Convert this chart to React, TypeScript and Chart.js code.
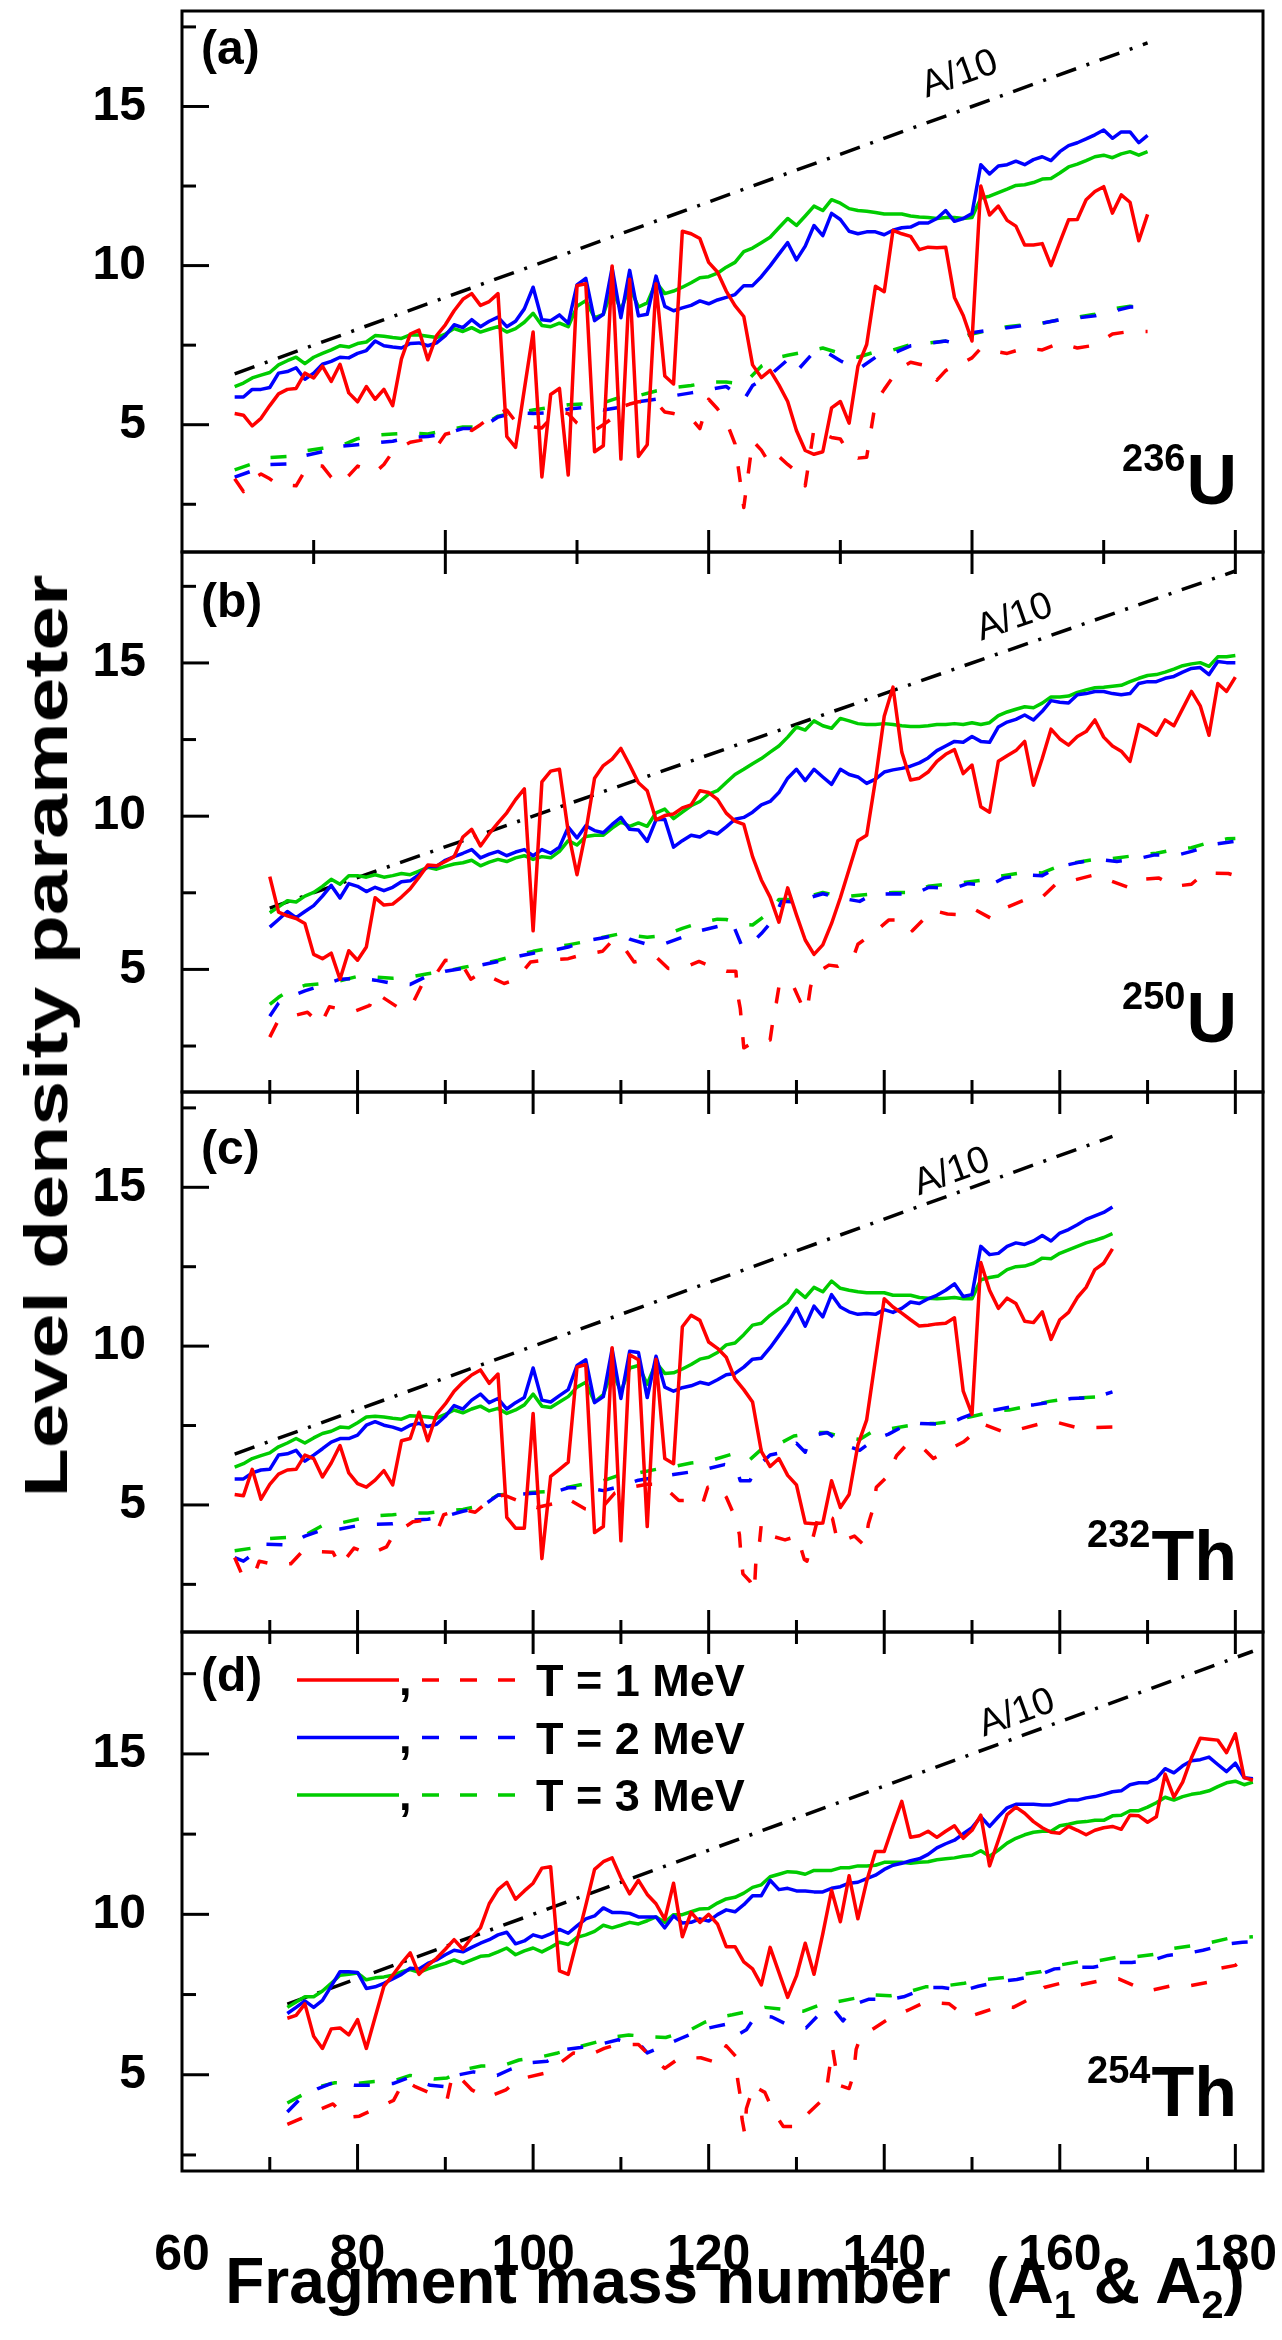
import React, { useEffect, useRef } from 'react';
import { Chart, registerables } from 'chart.js';
Chart.register(...registerables);

const FONT = '"Liberation Sans", Arial, Helvetica, sans-serif';
const RED = '#ff0000';
const BLUE = '#0000ff';
const GREEN = '#00cc00';

type Pair = [number, number];

// ---------------- axis / tick values ----------------
const X_MIN = 60;
const X_MAX = 183.15;
const X_LABELS = [60, 80, 100, 120, 140, 160, 180];
const Y_LABELS = [5, 10, 15];
const Y_TICKS = [2.5, 5, 7.5, 10, 12.5, 15, 17.5];
const X_TICKS_15 = [75, 90, 105, 120, 135, 150, 165, 180];
const X_TICKS_10 = [70, 80, 90, 100, 110, 120, 130, 140, 150, 160, 170, 180];
const LEGEND_LABELS = ['T = 1 MeV', 'T = 2 MeV', 'T = 3 MeV'];

// ---------------- panel (a) 236U ----------------
const a_T1_solid: Pair[] = [[66,5.35],[67,5.3],[68,4.96],[69,5.2],[70,5.6],[71,5.97],[72,6.11],[73,6.14],[74,6.62],[75,6.47],[76,6.84],[77,6.36],[78,6.9],[79,6.0],[80,5.72],[81,6.2],[82,5.8],[83,6.11],[84,5.6],[85,7.07],[86,7.85],[87,7.97],[88,7.04],[89,7.8],[90,8.14],[91,8.58],[92,8.94],[93,9.12],[94,8.75],[95,8.87],[96,9.12],[97,4.63],[98,4.29],[99,6.11],[100,7.91],[101,3.36],[102,5.95],[103,6.14],[104,3.42],[105,9.37],[106,9.43],[107,4.15],[108,4.34],[109,9.99],[110,3.92],[111,9.57],[112,4.0],[113,4.37],[114,9.43],[115,6.53],[116,6.28],[117,11.08],[118,11.0],[119,10.85],[120,10.1],[121,9.8],[122,9.2],[123,8.74],[124,8.4],[125,6.88],[126,6.48],[127,6.71],[128,6.25],[129,5.73],[130,4.82],[131,4.19],[132,4.07],[133,4.15],[134,5.53],[135,5.73],[136,5.05],[137,6.83],[138,7.52],[139,9.35],[140,9.18],[141,11.11],[142,11.0],[143,10.92],[144,10.5],[145,10.58],[146,10.56],[147,10.58],[148,9.0],[149,8.43],[150,7.63],[151,12.5],[152,11.59],[153,11.87],[154,11.42],[155,11.24],[156,10.65],[157,10.65],[158,10.69],[159,10.0],[160,10.73],[161,11.44],[162,11.45],[163,12.07],[164,12.33],[165,12.48],[166,11.65],[167,12.22],[168,11.99],[169,10.78],[170,11.61]];
const a_T2_solid: Pair[] = [[66,5.87],[67,5.87],[68,6.11],[69,6.11],[70,6.17],[71,6.62],[72,6.67],[73,6.79],[74,6.43],[75,6.62],[76,6.9],[77,6.99],[78,7.12],[79,7.1],[80,7.24],[81,7.33],[82,7.63],[83,7.48],[84,7.44],[85,7.41],[86,7.55],[87,7.57],[88,7.48],[89,7.57],[90,7.8],[91,8.14],[92,8.05],[93,8.3],[94,8.08],[95,8.25],[96,8.38],[97,8.08],[98,8.25],[99,8.64],[100,9.32],[101,8.3],[102,8.27],[103,8.45],[104,8.19],[105,9.39],[106,9.6],[107,8.27],[108,8.47],[109,9.93],[110,8.36],[111,9.85],[112,8.42],[113,8.47],[114,9.67],[115,8.72],[116,8.58],[117,8.67],[118,8.75],[119,8.89],[120,8.8],[121,8.92],[122,9.0],[123,9.09],[124,9.37],[125,9.37],[126,9.65],[127,9.99],[128,10.36],[129,10.72],[130,10.18],[131,10.61],[132,11.26],[133,10.94],[134,11.64],[135,11.45],[136,11.08],[137,11.0],[138,11.06],[139,11.06],[140,10.97],[141,11.11],[142,11.19],[143,11.21],[144,11.34],[145,11.34],[146,11.48],[147,11.73],[148,11.39],[149,11.48],[150,11.64],[151,13.17],[152,12.88],[153,13.13],[154,13.17],[155,13.28],[156,13.17],[157,13.33],[158,13.42],[159,13.3],[160,13.58],[161,13.77],[162,13.86],[163,13.98],[164,14.11],[165,14.26],[166,14.0],[167,14.2],[168,14.2],[169,13.86],[170,14.09]];
const a_T3_solid: Pair[] = [[66,6.2],[67,6.31],[68,6.47],[69,6.56],[70,6.64],[71,6.88],[72,7.01],[73,7.12],[74,6.92],[75,7.12],[76,7.24],[77,7.35],[78,7.48],[79,7.44],[80,7.55],[81,7.6],[82,7.8],[83,7.78],[84,7.74],[85,7.71],[86,7.82],[87,7.82],[88,7.78],[89,7.74],[90,7.85],[91,8.02],[92,7.93],[93,8.05],[94,7.91],[95,8.0],[96,8.08],[97,7.91],[98,8.02],[99,8.22],[100,8.5],[101,8.12],[102,8.08],[103,8.19],[104,8.08],[105,8.72],[106,8.9],[107,8.36],[108,8.47],[109,9.26],[110,8.61],[111,9.32],[112,8.7],[113,8.83],[114,9.48],[115,9.12],[116,9.2],[117,9.32],[118,9.46],[119,9.62],[120,9.65],[121,9.76],[122,9.95],[123,10.1],[124,10.44],[125,10.55],[126,10.72],[127,10.89],[128,11.19],[129,11.48],[130,11.26],[131,11.56],[132,11.87],[133,11.73],[134,12.07],[135,11.96],[136,11.79],[137,11.73],[138,11.71],[139,11.67],[140,11.62],[141,11.62],[142,11.62],[143,11.56],[144,11.53],[145,11.51],[146,11.48],[147,11.51],[148,11.51],[149,11.48],[150,11.51],[151,12.12],[152,12.18],[153,12.29],[154,12.4],[155,12.52],[156,12.54],[157,12.61],[158,12.72],[159,12.74],[160,12.91],[161,13.1],[162,13.19],[163,13.3],[164,13.42],[165,13.47],[166,13.39],[167,13.51],[168,13.58],[169,13.47],[170,13.58]];
const a_T1_dash: Pair[] = [[66,3.3],[67,2.9],[68,3.3],[69,3.45],[70,3.3],[71,3.1],[72,3.1],[73,3.08],[74,3.55],[75,3.72],[76,3.7],[77,3.35],[78,3.15],[79,3.4],[80,3.7],[81,3.6],[82,3.5],[83,3.75],[84,4.15],[85,4.3],[86,4.45],[87,4.5],[88,4.56],[89,4.3],[90,4.7],[91,4.77],[92,4.93],[93,4.82],[94,5.0],[95,5.2],[96,5.35],[97,5.46],[98,5.1],[99,5.0],[100,4.93],[101,4.9],[102,5.2],[103,5.4],[104,5.35],[105,5.05],[106,4.85],[107,4.82],[108,5.0],[109,5.2],[110,5.55],[111,5.65],[112,5.72],[113,5.72],[114,5.7],[115,5.4],[116,5.35],[117,5.27],[118,5.2],[119,4.88],[120,5.8],[121,5.5],[122,5.1],[123,4.4],[124,2.4],[125,4.5],[126,4.2],[127,3.75],[128,4.0],[129,3.75],[130,3.53],[131,3.08],[132,4.88],[133,4.7],[134,4.6],[135,4.55],[136,4.1],[137,3.95],[138,3.98],[139,5.7],[140,6.11],[141,6.5],[142,6.8],[143,6.96],[144,6.9],[145,6.84],[146,6.4],[147,6.7],[148,6.85],[149,6.95],[150,7.1],[151,7.4],[152,7.33],[154,7.24],[156,7.41],[158,7.35],[160,7.57],[162,7.41],[164,7.5],[166,7.85],[168,7.93],[170,7.93]];
const a_T2_dash: Pair[] = [[66,3.35],[68,3.55],[70,3.75],[72,3.77],[74,4.03],[76,4.15],[78,4.32],[80,4.37],[82,4.43],[84,4.48],[86,4.6],[88,4.63],[90,4.71],[92,4.88],[94,4.88],[96,5.24],[98,5.38],[100,5.35],[102,5.38],[104,5.49],[106,5.55],[108,5.46],[110,5.55],[112,5.72],[114,5.8],[116,5.91],[118,6.0],[120,6.1],[122,6.2],[123,6.0],[124,5.78],[125,6.23],[127,6.56],[129,7.04],[130,6.67],[132,7.29],[133,7.35],[135,7.01],[137,6.73],[139,7.12],[141,7.24],[143,7.48],[145,7.55],[147,7.63],[148,7.55],[150,7.89],[152,7.97],[154,8.05],[156,8.12],[158,8.19],[160,8.3],[162,8.36],[164,8.42],[166,8.56],[168,8.7],[170,8.7]];
const a_T3_dash: Pair[] = [[66,3.58],[68,3.77],[70,3.97],[72,4.0],[74,4.18],[76,4.26],[78,4.32],[80,4.56],[82,4.67],[84,4.71],[86,4.74],[88,4.71],[90,4.82],[92,4.93],[94,4.93],[96,5.27],[98,5.38],[100,5.46],[102,5.55],[104,5.63],[106,5.66],[108,5.69],[110,5.87],[112,5.91],[114,6.06],[116,6.17],[118,6.23],[120,6.34],[122,6.34],[124,6.28],[126,6.84],[128,7.12],[129,7.18],[131,7.29],[133,7.41],[135,7.24],[137,7.12],[139,7.29],[141,7.35],[143,7.52],[145,7.57],[147,7.63],[149,7.74],[150,7.85],[152,7.97],[154,8.08],[156,8.14],[158,8.19],[160,8.3],[162,8.38],[164,8.47],[166,8.64],[168,8.72],[170,8.7]];
const a_A10: Pair[] = [[66,6.6],[170,17.0]];

// ---------------- panel (b) 250U ----------------
const b_T1_solid: Pair[] = [[70,8.03],[71,6.87],[72,6.75],[73,6.66],[74,6.5],[75,5.49],[76,5.35],[77,5.53],[78,4.68],[79,5.61],[80,5.3],[81,5.73],[82,7.34],[83,7.1],[84,7.13],[85,7.36],[86,7.63],[87,8.01],[88,8.41],[89,8.38],[90,8.52],[91,8.68],[92,9.32],[93,9.57],[94,9.03],[95,9.43],[96,9.78],[97,10.11],[98,10.54],[99,10.89],[100,6.26],[101,11.12],[102,11.47],[103,11.53],[104,9.49],[105,8.09],[106,9.49],[107,11.24],[108,11.65],[109,11.86],[110,12.21],[111,11.67],[112,11.09],[113,10.83],[114,9.88],[115,10.02],[116,10.07],[117,10.27],[118,10.37],[119,10.83],[120,10.77],[121,10.55],[122,10.1],[123,9.84],[124,9.73],[125,8.68],[126,7.92],[127,7.36],[128,6.54],[129,7.66],[130,6.78],[131,5.96],[132,5.49],[133,5.8],[134,6.5],[135,7.34],[136,8.27],[137,9.2],[138,9.38],[139,11.18],[140,13.26],[141,14.21],[142,12.09],[143,11.18],[144,11.24],[145,11.44],[146,11.79],[147,12.02],[148,12.17],[149,11.39],[150,11.67],[151,10.31],[152,10.13],[153,11.79],[154,11.97],[155,12.14],[156,12.44],[157,11.01],[158,11.88],[159,12.84],[160,12.52],[161,12.32],[162,12.6],[163,12.76],[164,13.14],[165,12.58],[166,12.29],[167,12.12],[168,11.79],[169,12.99],[170,12.84],[171,12.64],[172,13.14],[173,12.95],[174,13.51],[175,14.07],[176,13.6],[177,12.64],[178,14.33],[179,14.07],[180,14.54]];
const b_T2_solid: Pair[] = [[70,6.38],[71,6.63],[72,6.89],[73,6.69],[74,6.89],[75,7.08],[76,7.39],[77,7.74],[78,7.33],[79,7.8],[80,7.71],[81,7.54],[82,7.68],[83,7.57],[84,7.68],[85,7.86],[86,7.89],[87,8.09],[88,8.36],[89,8.36],[90,8.56],[91,8.68],[92,8.79],[93,8.91],[94,8.64],[95,8.76],[96,8.85],[97,8.71],[98,8.83],[99,8.91],[100,8.71],[101,8.91],[102,8.79],[103,8.99],[104,9.64],[105,9.29],[106,9.69],[107,9.53],[108,9.46],[109,9.73],[110,9.96],[111,9.57],[112,9.55],[113,9.18],[114,9.88],[115,9.9],[116,8.99],[117,9.2],[118,9.38],[119,9.32],[120,9.5],[121,9.42],[122,9.65],[123,9.9],[124,9.96],[125,10.13],[126,10.37],[127,10.48],[128,10.77],[129,11.24],[130,11.53],[131,11.16],[132,11.53],[133,11.28],[134,11.04],[135,11.53],[136,11.36],[137,11.28],[138,11.07],[139,11.21],[140,11.44],[141,11.51],[142,11.56],[143,11.63],[144,11.74],[145,11.9],[146,12.14],[147,12.29],[148,12.44],[149,12.41],[150,12.6],[151,12.44],[152,12.41],[153,12.91],[154,13.07],[155,13.16],[156,13.3],[157,13.14],[158,13.42],[159,13.77],[160,13.72],[161,13.69],[162,13.96],[163,14.0],[164,14.07],[165,14.07],[166,14.0],[167,13.96],[168,14.0],[169,14.33],[170,14.39],[171,14.39],[172,14.5],[173,14.56],[174,14.7],[175,14.82],[176,14.85],[177,14.62],[178,15.05],[179,15.01],[180,15.01]];
const b_T3_solid: Pair[] = [[70,6.85],[71,7.04],[72,7.24],[73,7.2],[74,7.39],[75,7.51],[76,7.71],[77,7.94],[78,7.78],[79,8.06],[80,8.06],[81,8.01],[82,8.09],[83,8.01],[84,8.06],[85,8.13],[86,8.09],[87,8.21],[88,8.33],[89,8.27],[90,8.36],[91,8.44],[92,8.48],[93,8.56],[94,8.38],[95,8.5],[96,8.59],[97,8.52],[98,8.64],[99,8.71],[100,8.59],[101,8.68],[102,8.64],[103,8.85],[104,9.2],[105,9.06],[106,9.34],[107,9.38],[108,9.38],[109,9.61],[110,9.81],[111,9.67],[112,9.78],[113,9.67],[114,10.11],[115,10.23],[116,9.92],[117,10.13],[118,10.34],[119,10.48],[120,10.72],[121,10.83],[122,11.1],[123,11.36],[124,11.53],[125,11.71],[126,11.88],[127,12.09],[128,12.29],[129,12.58],[130,12.91],[131,12.81],[132,13.11],[133,12.95],[134,12.87],[135,13.19],[136,13.11],[137,13.02],[138,12.99],[139,12.99],[140,13.02],[141,12.99],[142,12.95],[143,12.93],[144,12.93],[145,12.95],[146,12.99],[147,12.99],[148,13.02],[149,12.99],[150,13.05],[151,12.99],[152,13.05],[153,13.28],[154,13.4],[155,13.49],[156,13.57],[157,13.54],[158,13.69],[159,13.89],[160,13.89],[161,13.92],[162,14.04],[163,14.12],[164,14.19],[165,14.21],[166,14.24],[167,14.27],[168,14.39],[169,14.5],[170,14.59],[171,14.62],[172,14.7],[173,14.8],[174,14.91],[175,14.97],[176,15.01],[177,14.89],[178,15.2],[179,15.2],[180,15.24]];
const b_T1_dash: Pair[] = [[70,2.79],[70.9,3.3],[72.7,3.49],[74.3,3.6],[75.8,3.2],[76.8,3.78],[77.8,3.72],[79.6,3.63],[81.4,3.83],[82,4.25],[84.5,3.78],[86.1,3.78],[87.3,4.48],[88.8,4.79],[90,5.3],[91.7,5.26],[92.9,4.68],[94.1,4.89],[96.7,4.54],[98.1,4.68],[99.7,5.24],[101.4,5.3],[104,5.35],[105.2,5.45],[107.9,5.59],[109.1,5.96],[110.5,5.65],[111.5,5.24],[114,5.41],[115.4,5.03],[117,5.03],[118.9,5.26],[120.3,5.1],[122.1,4.94],[123.1,4.94],[123.3,4.19],[123.6,3.72],[124,2.44],[125.4,2.67],[127,2.7],[127.4,3.49],[127.7,3.9],[128.1,4.6],[129.7,4.42],[130.8,3.72],[131.2,3.63],[131.6,4.42],[132,4.83],[133.7,5.14],[134.7,5.1],[136.5,5.41],[137,5.82],[139.1,6.26],[140.5,6.61],[142.4,6.61],[143.2,6.26],[145.5,6.93],[147.2,6.81],[149.1,6.78],[150.3,6.96],[152.2,6.66],[153.4,6.96],[156.1,7.28],[157.8,7.3],[159.6,7.8],[161.3,7.89],[164,8.09],[165.5,7.92],[168,7.66],[169.4,7.94],[171.3,7.98],[173,7.71],[175,7.78],[176.5,8.15],[179.2,8.13],[180,8.06]];
const b_T2_dash: Pair[] = [[70,3.47],[71,3.9],[72.5,4.13],[74,4.3],[76,4.48],[78,4.68],[80,4.71],[82,4.65],[84,4.54],[86,4.51],[88,4.79],[90,4.94],[92,5.03],[94,5.14],[96,5.26],[98,5.41],[100,5.53],[102,5.61],[104,5.73],[106,5.94],[108,6.03],[110,6.17],[111,5.99],[113,5.82],[115,5.84],[117,6.05],[119,6.26],[121,6.4],[122.7,6.52],[123.7,5.82],[124.3,5.7],[126,6.17],[127.4,6.63],[128.3,7.22],[130,7.2],[130.8,7.28],[133,7.47],[135,7.33],[137.2,7.22],[138.7,7.45],[141.4,7.47],[143.4,7.45],[145.1,7.68],[147.8,7.63],[149.5,7.8],[152,7.74],[153.6,7.98],[156,8.09],[158,8.06],[160,8.36],[162.3,8.5],[164.4,8.59],[166.5,8.52],[169,8.62],[170.7,8.73],[173.4,8.73],[175,8.85],[177.5,9.08],[180,9.18]];
const b_T3_dash: Pair[] = [[70,3.86],[71,4.09],[72,4.28],[74,4.48],[76,4.54],[78,4.63],[80,4.77],[82,4.75],[84,4.71],[86,4.75],[88,4.86],[90,4.94],[92,5.06],[94,5.18],[96,5.3],[98,5.45],[100,5.59],[102,5.7],[104,5.8],[106,5.91],[108,6.05],[110,6.17],[111,6.11],[113,6.05],[115,6.11],[117,6.34],[119,6.52],[121,6.64],[122,6.63],[124,6.46],[125,6.45],[127,6.87],[128,7.28],[130,7.28],[133,7.51],[135,7.39],[136,7.39],[139,7.47],[141,7.51],[143,7.51],[145,7.71],[147,7.78],[149,7.83],[152,7.94],[153,8.03],[156,8.17],[158,8.15],[160,8.38],[162,8.5],[164,8.59],[166,8.62],[169,8.73],[171,8.79],[173,8.91],[175,8.97],[177,9.14],[179,9.26],[180,9.27]];
const b_A10: Pair[] = [[70,7.0],[180,18.0]];

// ---------------- panel (c) 232Th ----------------
const c_T1_solid: Pair[] = [[66,5.33],[67,5.29],[68,6.12],[69,5.18],[70,5.65],[71,5.97],[72,6.1],[73,6.12],[74,6.57],[75,6.46],[76,5.88],[77,6.32],[78,6.87],[79,6.01],[80,5.67],[81,5.56],[82,5.78],[83,6.08],[84,5.63],[85,7.02],[86,7.09],[87,7.92],[88,7.02],[89,7.85],[90,8.18],[91,8.58],[92,8.86],[93,9.09],[94,9.25],[95,8.83],[96,9.12],[97,4.61],[98,4.27],[99,4.27],[100,7.88],[101,3.31],[102,5.9],[103,6.12],[104,6.35],[105,9.34],[106,9.42],[107,4.13],[108,4.32],[109,9.95],[110,3.87],[111,9.73],[112,9.57],[113,4.32],[114,9.59],[115,6.46],[116,6.3],[117,10.61],[118,10.97],[119,10.81],[120,10.13],[121,9.93],[122,9.65],[123,8.97],[124,8.63],[125,8.24],[126,6.69],[127,6.21],[128,6.46],[129,5.93],[130,5.63],[131,4.43],[132,4.41],[133,4.43],[134,5.76],[135,4.92],[136,5.33],[137,6.89],[138,7.68],[139,9.59],[140,11.49],[141,11.23],[142,11.04],[143,10.83],[144,10.63],[145,10.66],[146,10.7],[147,10.72],[148,10.89],[149,8.58],[150,7.85],[151,12.63],[152,11.76],[153,11.19],[154,11.51],[155,11.34],[156,10.78],[157,10.74],[158,11.08],[159,10.21],[160,10.83],[161,11.06],[162,11.53],[163,11.85],[164,12.41],[165,12.61],[166,13.06]];
const c_T2_solid: Pair[] = [[66,5.82],[67,5.82],[68,6.01],[69,6.1],[70,6.12],[71,6.57],[72,6.61],[73,6.72],[74,6.38],[75,6.57],[76,6.77],[77,6.98],[78,7.09],[79,7.09],[80,7.2],[81,7.51],[82,7.62],[83,7.51],[84,7.45],[85,7.36],[86,7.51],[87,7.57],[88,7.47],[89,7.54],[90,7.79],[91,8.13],[92,8.02],[93,8.3],[94,8.49],[95,8.22],[96,8.35],[97,8.02],[98,8.22],[99,8.38],[100,9.31],[101,8.3],[102,8.24],[103,8.44],[104,8.63],[105,9.39],[106,9.57],[107,8.22],[108,8.41],[109,9.91],[110,8.35],[111,9.84],[112,9.8],[113,8.38],[114,9.68],[115,8.71],[116,8.58],[117,8.69],[118,8.75],[119,8.86],[120,8.8],[121,8.94],[122,9.1],[123,9.14],[124,9.34],[125,9.59],[126,9.62],[127,9.95],[128,10.33],[129,10.72],[130,11.19],[131,10.63],[132,11.26],[133,10.92],[134,11.62],[135,11.23],[136,11.08],[137,11.0],[138,11.03],[139,11.0],[140,11.15],[141,11.06],[142,11.19],[143,11.39],[144,11.34],[145,11.49],[146,11.6],[147,11.76],[148,11.96],[149,11.56],[150,11.62],[151,13.14],[152,12.88],[153,12.92],[154,13.14],[155,13.25],[156,13.2],[157,13.31],[158,13.48],[159,13.31],[160,13.56],[161,13.67],[162,13.82],[163,13.99],[164,14.1],[165,14.21],[166,14.38]];
const c_T3_solid: Pair[] = [[66,6.19],[67,6.3],[68,6.46],[69,6.55],[70,6.64],[71,6.83],[72,6.95],[73,7.09],[74,6.95],[75,7.11],[76,7.25],[77,7.32],[78,7.45],[79,7.43],[80,7.59],[81,7.77],[82,7.79],[83,7.77],[84,7.73],[85,7.7],[86,7.81],[87,7.79],[88,7.77],[89,7.73],[90,7.85],[91,7.99],[92,7.9],[93,8.02],[94,8.11],[95,7.96],[96,8.04],[97,7.88],[98,7.99],[99,8.15],[100,8.49],[101,8.11],[102,8.07],[103,8.24],[104,8.41],[105,8.71],[106,8.86],[107,8.24],[108,8.47],[109,9.23],[110,8.56],[111,9.31],[112,9.39],[113,8.8],[114,9.48],[115,9.14],[116,9.16],[117,9.28],[118,9.42],[119,9.59],[120,9.65],[121,9.8],[122,10.04],[123,10.1],[124,10.36],[125,10.66],[126,10.72],[127,10.97],[128,11.17],[129,11.37],[130,11.76],[131,11.53],[132,11.85],[133,11.71],[134,12.05],[135,11.82],[136,11.76],[137,11.71],[138,11.68],[139,11.68],[140,11.68],[141,11.6],[142,11.6],[143,11.6],[144,11.53],[145,11.51],[146,11.49],[147,11.51],[148,11.53],[149,11.49],[150,11.49],[151,12.09],[152,12.16],[153,12.21],[154,12.41],[155,12.5],[156,12.52],[157,12.61],[158,12.77],[159,12.75],[160,12.92],[161,13.03],[162,13.14],[163,13.25],[164,13.33],[165,13.42],[166,13.54]];
const c_T1_dash: Pair[] = [[66,3.34],[66.8,2.83],[68.2,2.77],[68.8,3.23],[70.7,3.11],[72.4,3.15],[73.7,3.53],[75.3,3.53],[77.2,3.51],[78,3.08],[79.6,3.64],[81.4,3.45],[83.3,3.68],[84.1,4.07],[86.3,4.47],[88,4.52],[89.2,4.27],[89.8,4.69],[91.9,4.86],[93.4,4.77],[95.5,5.25],[96.7,5.31],[98.7,5.09],[100.4,4.92],[102.2,5.03],[103.8,5.22],[105.9,4.88],[107.5,4.8],[109.3,5.37],[111,5.55],[113,5.65],[114.6,5.65],[116.6,5.14],[118.3,5.14],[119.3,5.03],[119.9,5.56],[121,5.6],[122,5.25],[123.1,4.55],[123.5,4.07],[123.7,3.34],[123.9,2.83],[124.7,2.6],[125.2,2.27],[125.4,3.34],[125.8,3.84],[126,4.41],[127.2,4.02],[128.7,3.9],[130.1,4.02],[130.9,3.28],[131.2,3.23],[132.6,4.75],[134.1,4.58],[134.7,3.82],[135.5,3.9],[136.6,4.02],[137.8,3.71],[138.2,4.41],[138.7,4.86],[139.1,5.56],[140.3,5.88],[141.4,6.55],[142.6,6.91],[144.5,6.77],[145.6,6.46],[147.4,6.75],[149,6.98],[150.5,7.32],[151.3,7.54],[153.8,7.28],[155.5,7.39],[157.8,7.56],[159.4,7.62],[162,7.43],[163.6,7.43],[166,7.45]];
const c_T2_dash: Pair[] = [[66,3.34],[67,3.23],[69.6,3.76],[72,3.74],[74,4.02],[76,4.21],[78,4.24],[80,4.35],[82,4.39],[84,4.41],[86,4.52],[88,4.55],[90,4.64],[92,4.8],[94,4.92],[96,5.31],[98,5.33],[100,5.37],[102,5.37],[104,5.54],[106,5.54],[108,5.45],[110,5.59],[112,5.78],[114,5.87],[116,5.96],[118,6.04],[120,6.15],[121.8,6.27],[123.1,6.21],[123.6,5.76],[124.7,5.76],[125.4,6.16],[127,6.57],[128.5,6.66],[130,6.94],[131,6.66],[131.6,7.17],[133.5,7.28],[135.5,6.89],[137.2,6.72],[138.9,7.06],[140.5,7.23],[143,7.6],[144.1,7.56],[147.2,7.54],[148.8,7.73],[150.9,7.96],[152.6,7.99],[155.3,8.13],[157,8.15],[159.6,8.26],[161.3,8.35],[164,8.38],[166,8.56]];
const c_T3_dash: Pair[] = [[66,3.56],[68,3.64],[70,3.94],[72,3.98],[74,4.05],[76,4.35],[78,4.43],[80,4.55],[82,4.66],[84,4.69],[86,4.75],[88,4.75],[90,4.8],[92,4.86],[94,4.97],[96,5.31],[98,5.37],[100,5.4],[102,5.42],[104,5.56],[106,5.67],[108,5.76],[110,5.96],[112,6.01],[114,6.12],[116,6.21],[118,6.32],[120,6.38],[122.7,6.6],[124.5,6.38],[126,6.75],[127.4,6.83],[129.7,7.17],[132.2,7.28],[133.3,7.28],[135.3,7.14],[137.2,7.06],[138.5,7.28],[140.5,7.39],[144.1,7.56],[145.7,7.56],[147.4,7.62],[150.1,7.79],[152.6,7.96],[154.2,7.99],[156.7,8.13],[158.8,8.26],[161.3,8.35],[163,8.38],[164.4,8.41],[166,8.52]];
const c_A10: Pair[] = [[66,6.6],[166,16.6]];

// ---------------- panel (d) 254Th ----------------
const d_T1_solid: Pair[] = [[72,6.76],[73,6.85],[74,7.21],[75,6.2],[76,5.82],[77,6.43],[78,6.46],[79,6.24],[80,6.72],[81,5.82],[82,6.79],[83,7.76],[84,8.1],[85,8.47],[86,8.8],[87,8.13],[88,8.41],[89,8.63],[90,8.91],[91,9.21],[92,8.91],[93,9.28],[94,9.58],[95,10.33],[96,10.77],[97,11.0],[98,10.47],[99,10.73],[100,10.97],[101,11.44],[102,11.48],[103,8.24],[104,8.13],[105,9.19],[106,10.28],[107,11.4],[108,11.64],[109,11.76],[110,11.14],[111,10.64],[112,11.06],[113,10.62],[114,10.33],[115,9.84],[116,10.97],[117,9.3],[118,10.06],[119,9.75],[120,10.0],[121,9.7],[122,8.99],[123,8.99],[124,8.52],[125,8.3],[126,7.8],[127,8.97],[128,8.19],[129,7.41],[130,8.08],[131,9.1],[132,8.13],[133,9.39],[134,10.75],[135,9.77],[136,11.2],[137,9.86],[138,11.03],[139,11.96],[140,11.96],[141,12.76],[142,13.52],[143,12.4],[144,12.45],[145,12.59],[146,12.4],[147,12.59],[148,12.76],[149,12.37],[150,12.62],[151,13.09],[152,11.51],[153,12.31],[154,13.11],[155,13.34],[156,13.15],[157,12.89],[158,12.7],[159,12.56],[160,12.53],[161,12.74],[162,12.62],[163,12.48],[164,12.62],[165,12.7],[166,12.74],[167,12.65],[168,13.09],[169,13.07],[170,12.87],[171,13.04],[172,14.37],[173,13.65],[174,14.12],[175,14.88],[176,15.49],[177,15.46],[178,15.43],[179,15.04],[180,15.63],[181,14.26],[182,14.18]];
const d_T2_solid: Pair[] = [[72,6.91],[73,7.1],[74,7.3],[75,7.1],[76,7.32],[77,7.76],[78,8.21],[79,8.21],[80,8.19],[81,7.69],[82,7.74],[83,7.85],[84,7.99],[85,8.13],[86,8.32],[87,8.3],[88,8.47],[89,8.58],[90,8.74],[91,8.88],[92,8.83],[93,8.97],[94,9.1],[95,9.21],[96,9.36],[97,9.44],[98,9.08],[99,9.17],[100,9.36],[101,9.28],[102,9.39],[103,9.53],[104,9.41],[105,9.64],[106,9.86],[107,9.95],[108,10.2],[109,10.06],[110,10.06],[111,10.03],[112,9.92],[113,9.92],[114,9.92],[115,9.58],[116,9.95],[117,9.73],[118,9.75],[119,9.86],[120,9.79],[121,9.99],[122,10.14],[123,10.08],[124,10.3],[125,10.58],[126,10.58],[127,11.06],[128,10.77],[129,10.81],[130,10.73],[131,10.73],[132,10.7],[133,10.7],[134,10.81],[135,10.86],[136,10.97],[137,11.0],[138,11.11],[139,11.22],[140,11.4],[141,11.53],[142,11.59],[143,11.67],[144,11.73],[145,11.87],[146,12.07],[147,12.2],[148,12.31],[149,12.51],[150,12.7],[151,13.04],[152,12.74],[153,13.04],[154,13.32],[155,13.43],[156,13.43],[157,13.43],[158,13.41],[159,13.41],[160,13.48],[161,13.56],[162,13.56],[163,13.63],[164,13.67],[165,13.74],[166,13.82],[167,13.85],[168,14.04],[169,14.1],[170,14.1],[171,14.23],[172,14.54],[173,14.41],[174,14.63],[175,14.79],[176,14.82],[177,14.9],[178,14.67],[179,14.45],[180,14.71],[181,14.26],[182,14.23]];
const d_T3_solid: Pair[] = [[72,7.1],[73,7.27],[74,7.43],[75,7.43],[76,7.61],[77,7.85],[78,8.1],[79,8.13],[80,8.17],[81,7.96],[82,8.02],[83,8.05],[84,8.1],[85,8.21],[86,8.28],[87,8.19],[88,8.3],[89,8.39],[90,8.47],[91,8.58],[92,8.47],[93,8.58],[94,8.69],[95,8.72],[96,8.83],[97,8.95],[98,8.74],[99,8.86],[100,8.95],[101,8.83],[102,8.97],[103,9.13],[104,9.06],[105,9.28],[106,9.36],[107,9.47],[108,9.66],[109,9.58],[110,9.66],[111,9.75],[112,9.7],[113,9.8],[114,9.92],[115,9.75],[116,9.99],[117,9.99],[118,10.08],[119,10.17],[120,10.18],[121,10.35],[122,10.48],[123,10.53],[124,10.66],[125,10.84],[126,10.92],[127,11.17],[128,11.25],[129,11.33],[130,11.31],[131,11.25],[132,11.37],[133,11.37],[134,11.37],[135,11.45],[136,11.45],[137,11.51],[138,11.51],[139,11.53],[140,11.62],[141,11.62],[142,11.62],[143,11.59],[144,11.62],[145,11.64],[146,11.7],[147,11.73],[148,11.76],[149,11.81],[150,11.84],[151,11.98],[152,11.81],[153,12.0],[154,12.22],[155,12.37],[156,12.48],[157,12.56],[158,12.59],[159,12.59],[160,12.76],[161,12.81],[162,12.87],[163,12.89],[164,12.93],[165,12.93],[166,13.07],[167,13.09],[168,13.23],[169,13.23],[170,13.34],[171,13.48],[172,13.65],[173,13.56],[174,13.67],[175,13.74],[176,13.78],[177,13.85],[178,13.98],[179,14.1],[180,14.15],[181,14.04],[182,14.12]];
const d_T1_dash: Pair[] = [[72,3.45],[73.6,3.64],[75.5,3.9],[77.2,4.09],[78.8,3.67],[80.2,3.71],[82.5,4.0],[84.1,4.2],[85.3,4.82],[86.5,4.64],[88.8,4.37],[90.2,4.23],[90.8,4.98],[91.2,5.04],[93,4.53],[94.7,4.29],[96.9,4.53],[98.5,4.87],[101.2,5.04],[102.4,5.23],[104.6,5.68],[106.3,5.6],[108.1,5.82],[109.5,5.94],[112,5.94],[113.4,5.57],[115,5.2],[116.6,5.51],[119.1,5.53],[120.9,5.38],[122,5.9],[123.1,5.57],[123.3,4.85],[123.6,4.34],[123.8,3.62],[124.1,3.17],[124.3,3.95],[124.7,4.29],[124.9,4.68],[126.4,4.45],[127.4,3.84],[128.5,3.39],[130.1,3.39],[131.3,3.79],[133,4.23],[133.5,4.68],[133.9,5.46],[134.1,5.85],[134.5,5.17],[134.8,4.68],[136,4.57],[136.5,5.01],[136.8,5.79],[137.3,6.18],[138.9,6.46],[140.5,6.74],[143,7.05],[144.7,7.27],[147.4,7.21],[148.6,6.96],[149.5,6.8],[151.1,6.94],[153.2,7.13],[154.7,7.1],[156.7,7.38],[158.2,7.72],[160.5,7.88],[162.3,7.8],[164.8,7.94],[166.7,7.99],[168.6,7.76],[170,7.61],[172.5,7.76],[174.2,7.74],[176.9,7.88],[177.9,8.3],[180,8.41],[181.5,8.77],[182,8.85]];
const d_T2_dash: Pair[] = [[72,3.84],[73.5,4.26],[75.5,4.57],[77.2,4.75],[79.6,4.67],[81.4,4.67],[84.1,4.73],[85.7,4.9],[88.3,4.67],[90.2,4.62],[91.2,4.98],[93.2,5.09],[95.9,4.98],[97.5,5.18],[99.7,5.38],[101.6,5.42],[103.8,5.79],[105.4,5.85],[108.1,5.98],[109.7,6.09],[112.3,5.9],[113,5.68],[115.4,5.96],[116.8,6.13],[119.1,6.4],[120.7,6.5],[122.9,6.63],[123.6,6.29],[124.3,6.4],[125.4,6.85],[127.2,6.8],[128.9,6.57],[131.1,6.46],[132.4,6.83],[134.1,7.08],[135.3,6.68],[136.8,7.21],[138.2,7.35],[140.7,7.35],[142.2,7.43],[144.9,7.72],[146.6,7.72],[149.1,7.63],[150.7,7.76],[153.4,7.91],[155.1,7.97],[157.8,8.13],[159.4,8.3],[162.1,8.35],[163.8,8.35],[166.5,8.5],[168.2,8.5],[170.7,8.58],[172.3,8.72],[174.8,8.8],[176.3,8.88],[179.2,9.08],[180.8,9.13],[182,9.15]];
const d_T3_dash: Pair[] = [[72,4.12],[73.7,4.37],[75.5,4.62],[77.4,4.75],[80,4.73],[81.9,4.79],[84.2,4.82],[86,4.98],[88.7,4.87],[90.2,4.9],[92.4,5.18],[94.1,5.27],[96.7,5.3],[98.4,5.46],[101.1,5.57],[102.8,5.68],[105.2,5.87],[107.1,6.01],[109.3,6.18],[110.9,6.24],[113.4,6.18],[115.1,6.16],[117.9,6.4],[119.5,6.63],[121.3,6.8],[122.7,6.87],[125.2,7.02],[126.4,7.1],[129.1,7.02],[130.8,6.98],[133.3,7.24],[134.5,7.27],[136.6,7.38],[138,7.5],[140.7,7.46],[142.2,7.54],[144.7,7.74],[146.6,7.76],[149.1,7.85],[150.7,7.94],[153.4,8.02],[155.1,8.1],[157.8,8.21],[159.4,8.39],[162.1,8.52],[163.8,8.52],[166.5,8.66],[168.2,8.66],[170.7,8.75],[172.3,8.91],[175,9.02],[176.5,9.08],[179.2,9.25],[180.8,9.28],[182,9.3]];
const d_A10: Pair[] = [[72,7.2],[182,18.2]];

// ---------------- layout of the four stacked panels ----------------
interface TickRow { values: number[]; major: number }
interface PanelDef {
  key: string; letter: string; mass: string; elem: string;
  top: number; bottom: number; yMin: number; yMax: number;
  topTicks: TickRow | null; bottomTicks: TickRow;
  s1: Pair[]; s2: Pair[]; s3: Pair[]; d1: Pair[]; d2: Pair[]; d3: Pair[]; a10: Pair[];
  a10Label: Pair; letterBase: number; nucBase: number;
}

const PANELS: PanelDef[] = [
  { key: 'a', letter: '(a)', mass: '236', elem: 'U', top: 11, bottom: 552, yMin: 1, yMax: 18,
    topTicks: null, bottomTicks: { values: X_TICKS_15, major: 30 },
    s1: a_T1_solid, s2: a_T2_solid, s3: a_T3_solid, d1: a_T1_dash, d2: a_T2_dash, d3: a_T3_dash, a10: a_A10,
    a10Label: [148.6, 16.0], letterBase: 53, nucBase: 48 },
  { key: 'b', letter: '(b)', mass: '250', elem: 'U', top: 552, bottom: 1092, yMin: 1, yMax: 18.62,
    topTicks: { values: X_TICKS_15, major: 30 }, bottomTicks: { values: X_TICKS_10, major: 20 },
    s1: b_T1_solid, s2: b_T2_solid, s3: b_T3_solid, d1: b_T1_dash, d2: b_T2_dash, d3: b_T3_dash, a10: b_A10,
    a10Label: [154.85, 16.47], letterBase: 65, nucBase: 50 },
  { key: 'c', letter: '(c)', mass: '232', elem: 'Th', top: 1092, bottom: 1632, yMin: 1, yMax: 18,
    topTicks: { values: X_TICKS_10, major: 20 }, bottomTicks: { values: X_TICKS_10, major: 20 },
    s1: c_T1_solid, s2: c_T2_solid, s3: c_T3_solid, d1: c_T1_dash, d2: c_T2_dash, d3: c_T3_dash, a10: c_A10,
    a10Label: [147.7, 15.47], letterBase: 72, nucBase: 52 },
  { key: 'd', letter: '(d)', mass: '254', elem: 'Th', top: 1632, bottom: 2171, yMin: 2, yMax: 18.8,
    topTicks: { values: X_TICKS_10, major: 20 }, bottomTicks: { values: X_TICKS_10, major: 20 },
    s1: d_T1_solid, s2: d_T2_solid, s3: d_T3_solid, d1: d_T1_dash, d2: d_T2_dash, d3: d_T3_dash, a10: d_A10,
    a10Label: [155.1, 16.26], letterBase: 59, nucBase: 55 },
];

const PAD = 10;
const XAXIS_H = 100;
const DASH = [16, 22];
const LW = 3.5;

function makeDecor(p: PanelDef, isLast: boolean) {
  return {
    id: 'decor' + p.key,
    afterDatasetsDraw(chart: any) {
      const ctx: CanvasRenderingContext2D = chart.ctx;
      const ca = chart.chartArea;
      const xs = chart.scales.x;
      const ys = chart.scales.y;
      const seg = (x1: number, y1: number, x2: number, y2: number) => {
        ctx.beginPath(); ctx.moveTo(x1, y1); ctx.lineTo(x2, y2); ctx.stroke();
      };
      ctx.save();
      ctx.strokeStyle = '#000';
      ctx.lineWidth = 3;
      ctx.lineCap = 'butt';
      ctx.setLineDash([]);
      ctx.beginPath();
      ctx.rect(ca.left, ca.top, ca.right - ca.left, ca.bottom - ca.top);
      ctx.stroke();
      for (const v of Y_TICKS) {
        if (v <= ys.min || v >= ys.max) continue;
        const y = ys.getPixelForValue(v);
        seg(ca.left, y, ca.left + (v % 5 === 0 ? 27 : 14), y);
      }
      if (p.topTicks) {
        for (const v of p.topTicks.values) {
          const x = xs.getPixelForValue(v);
          seg(x, ca.top, x, ca.top + (v % p.topTicks.major === 0 ? 22 : 12));
        }
      }
      {
        const long = isLast ? 27 : 22;
        const short = isLast ? 14 : 12;
        for (const v of p.bottomTicks.values) {
          const x = xs.getPixelForValue(v);
          seg(x, ca.bottom, x, ca.bottom - (v % p.bottomTicks.major === 0 ? long : short));
        }
      }
      ctx.fillStyle = '#000';
      ctx.textBaseline = 'alphabetic';
      ctx.textAlign = 'left';
      ctx.font = `bold 48px ${FONT}`;
      ctx.fillText(p.letter, ca.left + 19, ca.top + p.letterBase);

      // nucleus label
      const nx = ca.right - 26;
      const ny = ca.bottom - p.nucBase;
      ctx.textAlign = 'right';
      ctx.font = `bold 70px ${FONT}`;
      ctx.fillText(p.elem, nx, ny);
      const w = ctx.measureText(p.elem).width;
      ctx.font = `bold 38px ${FONT}`;
      ctx.fillText(p.mass, nx - w - 1, ny - 33.5);

      // A/10 label along the line
      const a0 = p.a10[0];
      const a1 = p.a10[p.a10.length - 1];
      const dx = xs.getPixelForValue(a1[0]) - xs.getPixelForValue(a0[0]);
      const dy = ys.getPixelForValue(a1[1]) - ys.getPixelForValue(a0[1]);
      ctx.save();
      ctx.translate(xs.getPixelForValue(p.a10Label[0]), ys.getPixelForValue(p.a10Label[1]));
      ctx.rotate(Math.atan2(dy, dx));
      ctx.textAlign = 'center';
      ctx.textBaseline = 'middle';
      ctx.font = `38px ${FONT}`;
      ctx.fillText('A/10', 0, 0);
      ctx.restore();

      if (isLast) {
        const colors = [RED, BLUE, GREEN];
        const rows = [48, 105.5, 163];
        for (let i = 0; i < 3; i++) {
          const y = ca.top + rows[i];
          ctx.strokeStyle = colors[i];
          ctx.lineWidth = LW;
          ctx.setLineDash([]);
          seg(ca.left + 115, y, ca.left + 217, y);
          ctx.setLineDash([17, 21]);
          seg(ca.left + 240, y, ca.left + 334, y);
          ctx.setLineDash([]);
          ctx.fillStyle = '#000';
          ctx.textAlign = 'left';
          ctx.textBaseline = 'alphabetic';
          ctx.font = `bold 45px ${FONT}`;
          ctx.fillText(',', ca.left + 217, y + 15);
          ctx.fillText(LEGEND_LABELS[i], ca.left + 354, y + 16);
        }
      }
      ctx.restore();
    },
  };
}

function makeConfig(p: PanelDef, isLast: boolean): any {
  const line = (data: Pair[], color: string, dash: number[], order: number, width = LW) => ({
    data: data.map(([x, y]) => ({ x, y })),
    borderColor: color,
    backgroundColor: color,
    borderWidth: width,
    borderDash: dash,
    borderJoinStyle: 'round',
    borderCapStyle: 'butt',
    pointRadius: 0,
    pointHoverRadius: 0,
    tension: 0,
    fill: false,
    order,
  });
  const yFont = { family: FONT, size: 48, weight: 'bold' };
  const xFont = { family: FONT, size: 50, weight: 'bold' };
  return {
    type: 'line',
    data: {
      datasets: [
        line(p.s1, RED, [], 1),
        line(p.s2, BLUE, [], 2),
        line(p.s3, GREEN, [], 3),
        line(p.d1, RED, DASH, 4),
        line(p.d2, BLUE, DASH, 5),
        line(p.d3, GREEN, DASH, 6),
        line(p.a10, '#000000', [21, 11, 3, 11], 7, 3.5),
      ],
    },
    options: {
      animation: false,
      responsive: false,
      maintainAspectRatio: false,
      devicePixelRatio: 1,
      events: [],
      layout: { padding: { left: 0, right: 19, top: PAD, bottom: isLast ? 0 : PAD } },
      plugins: { legend: { display: false }, tooltip: { enabled: false }, title: { display: false } },
      scales: {
        x: {
          type: 'linear', min: X_MIN, max: X_MAX, display: isLast,
          grid: { display: false }, border: { display: false },
          ticks: { color: '#000', font: xFont, padding: 47, maxRotation: 0, autoSkip: false },
          afterBuildTicks: (s: any) => { s.ticks = X_LABELS.map((v) => ({ value: v })); },
          afterFit: (s: any) => { s.height = isLast ? XAXIS_H : 0; s.paddingLeft = 0; s.paddingRight = 0; },
        },
        y: {
          type: 'linear', min: p.yMin, max: p.yMax,
          grid: { display: false }, border: { display: false },
          ticks: { color: '#000', font: yFont, padding: 28 },
          afterBuildTicks: (s: any) => { s.ticks = Y_LABELS.map((v) => ({ value: v })); },
          afterFit: (s: any) => { s.width = 182; s.paddingTop = 0; s.paddingBottom = 0; },
        },
      },
    },
    plugins: [makeDecor(p, isLast)],
  };
}

function Panel({ p, isLast }: { p: PanelDef; isLast: boolean }) {
  const ref = useRef<HTMLCanvasElement>(null);
  const canvasTop = p.top - PAD;
  const height = isLast ? p.bottom + XAXIS_H - canvasTop : p.bottom + PAD - canvasTop;
  useEffect(() => {
    if (!ref.current) return;
    const chart = new Chart(ref.current, makeConfig(p, isLast));
    return () => chart.destroy();
  }, []);
  return (
    <canvas
      ref={ref}
      width={1282}
      height={height}
      style={{ position: 'absolute', left: 0, top: canvasTop, width: 1282, height }}
    />
  );
}

export default function App() {
  const sub = { fontSize: '0.62em', position: 'relative' as const, top: '0.38em' };
  return (
    <div style={{ position: 'absolute', left: 0, top: 0, width: 1282, height: 2340, background: '#fff', overflow: 'hidden' }}>
      {PANELS.map((p, i) => (
        <Panel key={p.key} p={p} isLast={i === PANELS.length - 1} />
      ))}
      <div
        style={{
          position: 'absolute', left: 46, top: 1036,
          transform: 'translate(-50%, -50%) rotate(-90deg) scaleX(1.3)',
          fontFamily: FONT, fontWeight: 'bold', fontSize: 62, lineHeight: '62px',
          whiteSpace: 'nowrap', color: '#000',
        }}
      >
        Level density parameter
      </div>
      <div
        style={{
          position: 'absolute', left: 735, top: 2250,
          transform: 'translateX(-50%)',
          fontFamily: FONT, fontWeight: 'bold', fontSize: 64, lineHeight: '62px',
          whiteSpace: 'nowrap', color: '#000',
        }}
      >
        Fragment mass number&nbsp; (A<span style={sub}>1</span> &amp; A<span style={sub}>2</span>)
      </div>
    </div>
  );
}
